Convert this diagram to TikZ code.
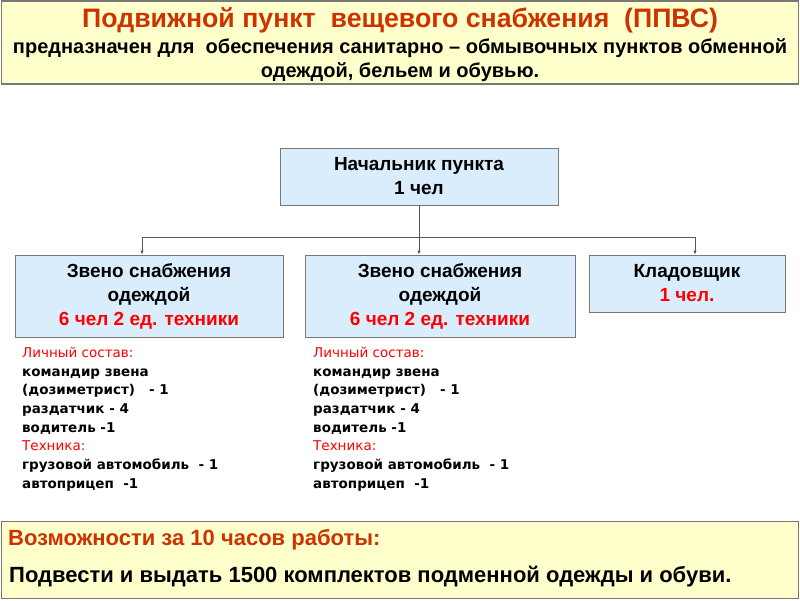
\documentclass[tikz,border=0pt]{standalone}
\usepackage{fontspec}
\setmainfont{Liberation Sans}
\newfontfamily\listfont{DejaVu Sans}
\usetikzlibrary{positioning,arrows.meta}
\definecolor{titlered}{RGB}{204,51,0}
\definecolor{boxblue}{RGB}{218,237,252}
\definecolor{paleyellow}{RGB}{255,255,204}
\definecolor{framegray}{RGB}{120,120,120}

\tikzset{
  unit/.style={draw=framegray, fill=boxblue, line width=0.9pt, align=center,
    font=\bfseries\fontsize{19}{24}\selectfont, inner sep=0pt},
  banner/.style={draw=framegray, fill=paleyellow, line width=1.2pt, inner sep=0pt},
  staff/.style={align=left, anchor=north west, inner sep=0pt,
    font=\listfont\bfseries\fontsize{13.5}{18.7}\selectfont},
  line/.style={anchor=base, inner sep=0pt},
  link/.style={draw=black!65, line width=0.7pt},
  linkto/.style={link, -{Latex[length=4pt,width=3.5pt]}},
}

\begin{document}
\begin{tikzpicture}[x=1pt,y=-1pt]
\useasboundingbox (0,0) rectangle (800,600);

% header
\node[banner, minimum width=797pt, minimum height=83pt] (head) at (400,42.5) {};
\node[line, text=titlered, font=\bfseries\fontsize{26.7}{30}\selectfont] (title) at (400,27)
  {Подвижной пункт\ \ вещевого снабжения\ \ (ППВС)};
\node[line, font=\bfseries\fontsize{20}{24}\selectfont] (purpose) at (400,53)
  {предназначен для\ \ обеспечения санитарно -- обмывочных пунктов обменной};
\node[line, font=\bfseries\fontsize{20}{24}\selectfont] (purpose2) at (400,77)
  {одеждой, бельем и обувью.};

% structure
\node[unit, minimum width=278pt, minimum height=57pt] (chief) at (419,176.5)
  {Начальник пункта\\1 чел};
\node[unit, minimum width=268pt, minimum height=82pt] (unitA) at (149,296)
  {Звено снабжения\\одеждой\\\textcolor{red}{6 чел 2 ед. техники}};
\node[unit, minimum width=270pt, minimum height=82pt] (unitB) at (440,296)
  {Звено снабжения\\одеждой\\\textcolor{red}{6 чел 2 ед. техники}};
\node[unit, minimum width=196pt, minimum height=57pt] (store) at (687,283.5)
  {Кладовщик\\\textcolor{red}{1 чел.}};

\coordinate (bus) at (419,237);
\coordinate (busL) at (142,237);
\coordinate (busR) at (695,237);
\draw[link] (chief.south) -- (bus);
\draw[link] (busL) -- (busR);
\draw[linkto] (busL) -- (busL |- unitA.north);
\draw[linkto] (bus) -- (bus |- unitB.north);
\draw[linkto] (busR) -- (busR |- store.north);

% lists
\node[staff] (listA) at (22,347)
  {\textcolor{red}{\mdseries Личный состав:}\\
   командир звена\\
   (дозиметрист)\ \ \ - 1\\
   раздатчик - 4\\
   водитель -1\\
   \textcolor{red}{\mdseries Техника:}\\
   грузовой автомобиль\ \ - 1\\
   автоприцеп\ \ -1};
\node[staff] (listB) at (313,347)
  {\textcolor{red}{\mdseries Личный состав:}\\
   командир звена\\
   (дозиметрист)\ \ \ - 1\\
   раздатчик - 4\\
   водитель -1\\
   \textcolor{red}{\mdseries Техника:}\\
   грузовой автомобиль\ \ - 1\\
   автоприцеп\ \ -1};

% footer
\node[banner, minimum width=797pt, minimum height=77pt] (foot) at (400,560) {};
\node[line, anchor=base west, text=titlered, font=\bfseries\fontsize{22}{24}\selectfont] (abilityhead)
  at (8,545) {Возможности за 10 часов работы:};
\node[line, anchor=base west, font=\bfseries\fontsize{22}{24}\selectfont] (ability)
  at (9,582) {Подвести и выдать 1500 комплектов подменной одежды и обуви.};
\end{tikzpicture}
\end{document}
